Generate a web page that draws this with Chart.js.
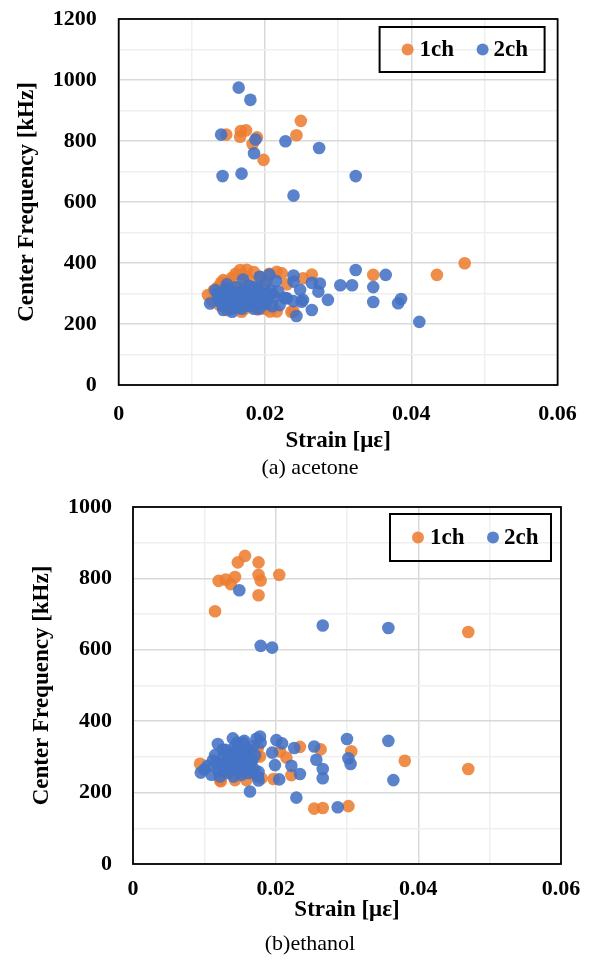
<!DOCTYPE html>
<html>
<head>
<meta charset="utf-8">
<script src="https://cdn.jsdelivr.net/npm/chart.js@4.4.0/dist/chart.umd.min.js"></script>
<style>
  body { margin: 0; background: #fff; width: 592px; height: 961px; position: relative; overflow: hidden; }
  canvas { position: absolute; left: 0; }
  .cap { position: absolute; left: 0; width: 620px; text-align: center; font: 22px "Liberation Serif", "Times New Roman", serif; color: #000; }
</style>
</head>
<body>
<canvas id="acetone" width="592" height="455" style="top:0"></canvas>
<div class="cap" style="top:454px">(a) acetone</div>
<canvas id="ethanol" width="592" height="440" style="top:485px"></canvas>
<div class="cap" style="top:930px">(b)ethanol</div>
<script>
// ── acetone: strain [-] / center frequency [kHz] ──
const acetone1chStrain = [0.0249,0.0147,0.0167,0.0174,0.0166,0.0189,0.0183,0.0243,0.0198,
  0.0122,0.0128,0.0130,0.0135,0.0138,0.0140,0.0143,0.0145,0.0148,0.0150,0.0152,0.0155,0.0158,0.0160,0.0162,0.0165,
  0.0166,0.0168,0.0170,0.0172,0.0175,0.0178,0.0180,0.0182,0.0185,0.0188,0.0190,0.0193,0.0195,0.0198,0.0200,0.0202,
  0.0206,0.0207,0.0210,0.0216,0.0216,0.0223,0.0230,0.0236,0.0239,0.0252,0.0264,0.0348,0.0435,0.0473];
const acetone1chFreq = [866,821,833,835,814,812,790,819,738,
  295,275,310,320,262,335,344,255,246,340,280,352,300,365,270,320,
  377,240,360,250,378,345,290,262,370,320,248,355,258,280,250,340,
  365,241,300,371,241,366,330,240,241,350,362,361,361,399];

const acetone2chStrain = [0.0164,0.0180,0.0140,0.0187,0.0228,0.0274,0.0185,0.0142,0.0168,0.0324,0.0239,
  0.0125,0.0132,0.0136,0.0140,0.0142,0.0143,0.0145,0.0146,0.0148,0.0150,0.0152,0.0154,0.0155,0.0156,0.0158,0.0160,
  0.0162,0.0164,0.0166,0.0168,0.0170,0.0171,0.0172,0.0175,0.0178,0.0180,0.0182,0.0185,0.0188,0.0190,0.0193,0.0195,
  0.0198,0.0200,0.0203,0.0206,0.0208,0.0210,0.0213,0.0215,0.0218,0.0220,0.0227,0.0230,0.0239,0.0239,0.0239,0.0243,
  0.0248,0.0250,0.0252,0.0264,0.0264,0.0273,0.0275,0.0286,0.0303,0.0319,0.0324,0.0348,0.0348,0.0365,0.0382,0.0386,0.0411,
  0.0135,0.0145,0.0150,0.0155,0.0160,0.0165,0.0170,0.0175,0.0180,0.0185,0.0190,0.0195,0.0200,0.0205,0.0138,0.0168,0.0178,0.0192];
const acetone2chFreq = [975,935,821,805,799,777,760,685,693,685,621,
  267,311,285,300,260,246,270,315,330,275,290,250,240,305,268,320,
  285,255,300,275,346,310,262,290,325,270,300,250,285,315,355,268,
  300,330,275,362,310,258,290,341,306,262,286,284,359,339,275,226,
  312,273,279,335,246,306,333,279,327,327,377,321,272,361,268,282,207,
  300,290,310,280,295,265,285,305,285,320,275,290,265,295,275,250,260,250];

// ── ethanol ──
const ethanol1chStrain = [0.0157,0.0147,0.0176,0.0176,0.0205,0.0179,0.0143,0.0130,0.0120,0.0137,0.0176,0.0115,0.0470,
  0.0094,0.0122,0.0123,0.0130,0.0135,0.0140,0.0143,0.0148,0.0150,0.0155,0.0159,0.0162,0.0165,0.0170,0.0172,0.0175,
  0.0178,0.0180,0.0197,0.0206,0.0215,0.0222,0.0234,0.0254,0.0263,0.0266,0.0302,0.0306,0.0381,0.0470];
const ethanol1chFreq = [863,845,845,810,810,794,804,797,793,784,753,708,650,
  281,235,232,260,300,280,235,320,255,295,235,270,310,250,300,325,
  301,240,238,315,298,249,328,155,321,157,162,316,289,266];

const ethanol2chStrain = [0.0149,0.0266,0.0358,0.0179,0.0195,
  0.0095,0.0100,0.0105,0.0110,0.0112,0.0115,0.0119,0.0120,0.0122,0.0125,0.0127,0.0130,0.0132,0.0134,0.0136,0.0138,
  0.0140,0.0141,0.0143,0.0145,0.0147,0.0149,0.0150,0.0152,0.0154,0.0156,0.0157,0.0159,0.0160,0.0162,0.0164,0.0165,
  0.0168,0.0170,0.0173,0.0175,0.0176,0.0176,0.0178,0.0179,0.0195,0.0199,0.0201,0.0205,0.0209,0.0222,0.0226,0.0229,
  0.0234,0.0254,0.0257,0.0266,0.0266,0.0287,0.0300,0.0302,0.0305,0.0358,0.0365,
  0.0118,0.0128,0.0133,0.0139,0.0144,0.0148,0.0153,0.0158,0.0163,0.0167,0.0171,0.0126,0.0146,0.0161];
const ethanol2chFreq = [767,668,661,611,606,
  256,265,275,250,290,305,336,260,245,280,300,320,255,270,290,310,
  352,245,330,265,300,280,320,250,340,345,270,295,315,255,203,285,
  330,265,351,245,258,234,357,340,312,277,347,237,338,275,325,186,
  252,329,292,266,240,159,350,296,280,345,235,
  280,265,305,285,315,260,300,280,320,290,305,320,340,265];

const xTicksMax = 0.06;
const acetoneYMax = 1200;
const ethanolYMax = 1000;

const ORANGE = 'rgba(237,125,49,0.88)';
const BLUE = 'rgba(68,114,196,0.88)';
const FONT = '"Liberation Serif", "Times New Roman", serif';

function pts(xs, ys) { return xs.map((x, i) => ({ x: x, y: ys[i] })); }

// plot frame + boxed legend, Excel style
const excelDeco = {
  id: 'excelDeco',
  afterDraw(chart, args, opts) {
    const { ctx, chartArea: a } = chart;
    ctx.save();
    ctx.strokeStyle = '#000';
    ctx.lineWidth = 1.8;
    ctx.strokeRect(a.left, a.top, a.right - a.left, a.bottom - a.top);
    const bx = a.right - opts.right - opts.w, by = a.top + opts.top;
    ctx.lineWidth = 2;
    ctx.strokeRect(bx, by, opts.w, opts.h);
    const cy = by + opts.h / 2;
    ctx.font = 'bold 23px ' + FONT;
    ctx.textBaseline = 'middle';
    const off = [[28, 40], [103, 114]];
    chart.data.datasets.forEach((ds, i) => {
      ctx.beginPath();
      ctx.arc(bx + off[i][0], cy, 6, 0, Math.PI * 2);
      ctx.fillStyle = ds.backgroundColor;
      ctx.fill();
      ctx.fillStyle = '#000';
      ctx.fillText(ds.label, bx + off[i][1], cy + 1);
    });
    ctx.restore();
  }
};

function makeChart(id, s1x, s1y, s2x, s2y, yMax, lay) {
  new Chart(document.getElementById(id).getContext('2d'), {
    type: 'scatter',
    data: {
      datasets: [
        // order 2 → drawn first, so 2ch sits on top like in Excel
        { label: '1ch', order: 2, data: pts(s1x, s1y), backgroundColor: ORANGE, borderWidth: 0, pointRadius: 6.3, pointHoverRadius: 6.3 },
        { label: '2ch', order: 1, data: pts(s2x, s2y), backgroundColor: BLUE, borderWidth: 0, pointRadius: 6.3, pointHoverRadius: 6.3 }
      ]
    },
    options: {
      responsive: false,
      animation: false,
      layout: { padding: { top: lay.top, right: lay.right, left: 0, bottom: 0 } },
      plugins: { legend: { display: false }, tooltip: { enabled: false }, excelDeco: lay.legend },
      scales: {
        x: {
          type: 'linear', min: 0, max: xTicksMax,
          afterFit: s => { s.height = lay.xh; s.paddingLeft = 0; s.paddingRight = 0; },
          border: { display: false },
          grid: { drawTicks: false, lineWidth: 1.5, color: c => Math.round(c.tick.value * 100) % 2 === 0 ? '#d9d9d9' : '#efefef' },
          ticks: { stepSize: 0.01, autoSkip: false, maxRotation: 0, padding: lay.xpad, color: '#000', font: { family: FONT, size: 22, weight: 'bold' },
            callback: v => Math.round(v * 100) % 2 === 0 ? String(Math.round(v * 100) / 100) : '' },
          title: { display: true, text: 'Strain [με]', color: '#000', font: { family: FONT, size: 23, weight: 'bold' }, padding: { top: 0, bottom: lay.xtb } }
        },
        y: {
          type: 'linear', min: 0, max: yMax,
          afterFit: s => { s.width = lay.yw; s.paddingTop = 0; s.paddingBottom = 0; },
          border: { display: false },
          grid: { drawTicks: false, lineWidth: 1.5, color: c => c.tick.value % 200 === 0 ? '#d9d9d9' : '#efefef' },
          ticks: { stepSize: 100, autoSkip: false, padding: lay.ypad, color: '#000', font: { family: FONT, size: 22, weight: 'bold' },
            callback: v => v % 200 === 0 ? String(v) : '' },
          title: { display: true, text: 'Center Frequency [kHz]', color: '#000', font: { family: FONT, size: 23, weight: 'bold' }, padding: { top: lay.ytt, bottom: 0 } }
        }
      }
    },
    plugins: [excelDeco]
  });
}

makeChart('acetone', acetone1chStrain, acetone1chFreq, acetone2chStrain, acetone2chFreq, acetoneYMax,
  { top: 19, right: 34.4, yw: 118.7, xh: 70, xpad: 16, xtb: 0, ypad: 22, ytt: 13, legend: { right: 13, top: 8, w: 165, h: 45 } });
makeChart('ethanol', ethanol1chStrain, ethanol1chFreq, ethanol2chStrain, ethanol2chFreq, ethanolYMax,
  { top: 22, right: 31, yw: 133, xh: 61, xpad: 12, xtb: 1, ypad: 21, ytt: 28, legend: { right: 10, top: 7, w: 161, h: 47 } });
</script>
</body>
</html>
